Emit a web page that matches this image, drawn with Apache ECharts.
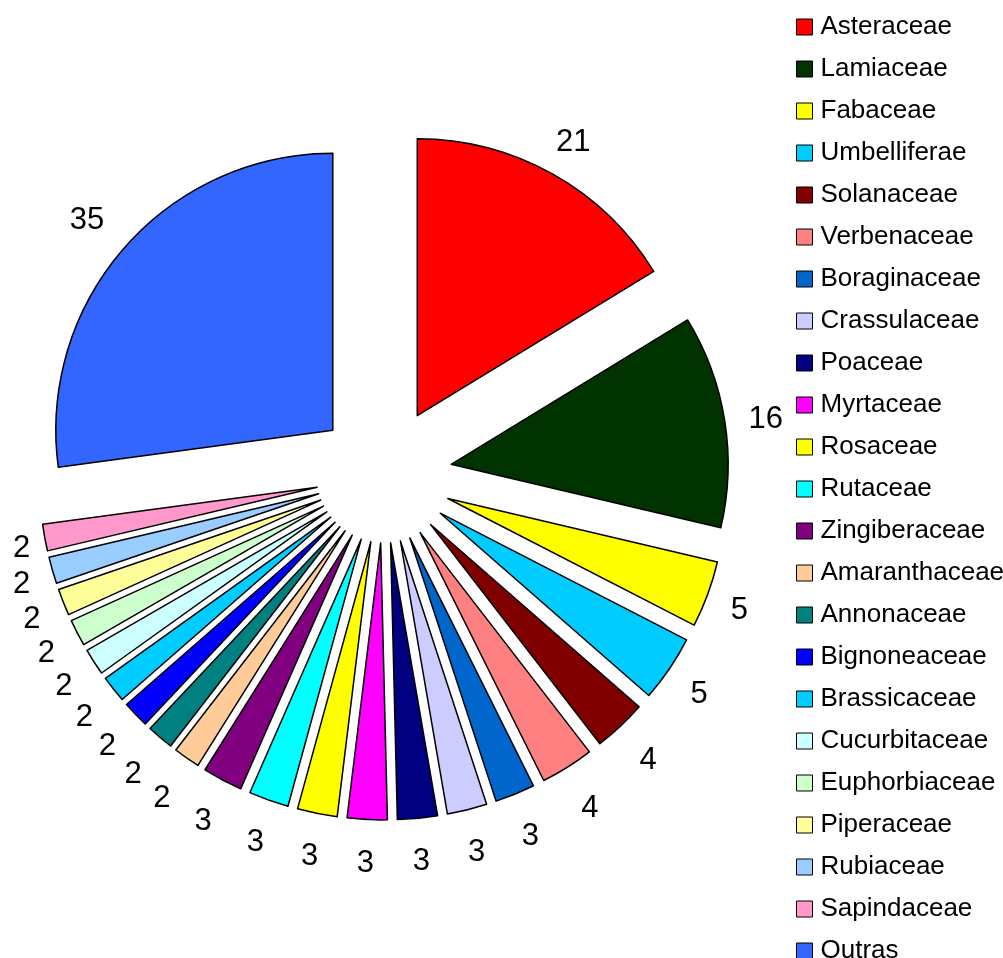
<!DOCTYPE html>
<html>
<head>
<meta charset="utf-8">
<script src="https://cdn.jsdelivr.net/npm/echarts@6/dist/echarts.min.js"></script>
<style>
html,body{margin:0;padding:0;background:#fff;}
#c{width:1003px;height:958px;}
</style>
</head>
<body>
<div id="c"></div>
<script>
// ---- data ----
const families = ['Asteraceae','Lamiaceae','Fabaceae','Umbelliferae','Solanaceae','Verbenaceae',
  'Boraginaceae','Crassulaceae','Poaceae','Myrtaceae','Rosaceae','Rutaceae','Zingiberaceae',
  'Amaranthaceae','Annonaceae','Bignoneaceae','Brassicaceae','Cucurbitaceae','Euphorbiaceae',
  'Piperaceae','Rubiaceae','Sapindaceae','Outras'];
const counts = [21,16,5,5,4,4,3,3,3,3,3,3,3,2,2,2,2,2,2,2,2,2,35];

// ---- style ----
const colors = ['#FF0000','#003300','#FFFF00','#00CCFF','#800000','#FF8080','#0066CC','#CCCCFF',
  '#000080','#FF00FF','#FFFF00','#00FFFF','#800080','#FFCC99','#008080','#0000FF','#00CCFF',
  '#CCFFFF','#CCFFCC','#FFFF99','#99CCFF','#FF99CC','#3366FF'];
const FONT = '"Liberation Sans", Arial, sans-serif';
const CX = 384, CY = 475, R = 277, EXPLODE = 68;

const total = counts.reduce((a, b) => a + b, 0);
const mids = [];
let acc = 0;
counts.forEach(v => { mids.push((acc + v / 2) / total * 2 * Math.PI); acc += v; });

const chart = echarts.init(document.getElementById('c'), null, {renderer: 'canvas'});
chart.setOption({
  animation: false,
  backgroundColor: '#fff',
  color: colors,
  textStyle: {fontFamily: FONT},
  legend: {
    orient: 'vertical',
    left: 796,
    top: 11,
    height: 1000,
    padding: 0,
    icon: 'rect',
    itemWidth: 16,
    itemHeight: 16,
    itemGap: 10,
    selectedMode: false,
    itemStyle: {borderColor: '#000', borderWidth: 1},
    textStyle: {fontSize: 26, lineHeight: 26, color: '#000', fontFamily: FONT, padding: [0, 0, 6, 3]},
    data: families
  },
  series: [{
    // exploded pie (all slices pulled out)
    type: 'pie',
    center: [CX, CY],
    radius: [0, R],
    startAngle: 90,
    clockwise: true,
    selectedMode: 'multiple',
    selectedOffset: EXPLODE,
    avoidLabelOverlap: false,
    itemStyle: {borderColor: '#000', borderWidth: 1.5},
    select: {itemStyle: {borderColor: '#000', borderWidth: 1.5}},
    emphasis: {disabled: true},
    label: {show: false},
    labelLine: {show: false},
    data: families.map((n, i) => ({name: n, value: counts[i], selected: true}))
  }, {
    // label carrier (same slices, invisible) - value labels just outside each exploded slice
    type: 'pie',
    center: [CX, CY],
    radius: [0, R],
    startAngle: 90,
    clockwise: true,
    silent: true,
    avoidLabelOverlap: false,
    itemStyle: {color: 'rgba(0,0,0,0)', borderWidth: 0},
    emphasis: {disabled: true},
    label: {show: true, position: 'outside', formatter: '{c}', fontSize: 31, color: '#000', fontFamily: FONT},
    labelLine: {show: false},
    labelLayout: function (p) {
      const th = mids[p.dataIndex];
      const s = Math.sin(th), c = Math.cos(th);
      const w = p.labelRect.width;
      const hw = w / 2 + 8.4, hh = 23, gap = 15.5;
      const ext = Math.min(Math.abs(s) > 1e-6 ? hw / Math.abs(s) : 1e9,
                           Math.abs(c) > 1e-6 ? hh / Math.abs(c) : 1e9);
      const r = R + EXPLODE + gap + ext;
      let x = CX + r * s;
      const y = CY - r * c + 5;
      x = Math.max(x, 13 + w / 2);
      return {x: x, y: y, align: 'center', verticalAlign: 'middle'};
    },
    data: families.map((n, i) => ({name: n, value: counts[i]}))
  }]
});
</script>
</body>
</html>
